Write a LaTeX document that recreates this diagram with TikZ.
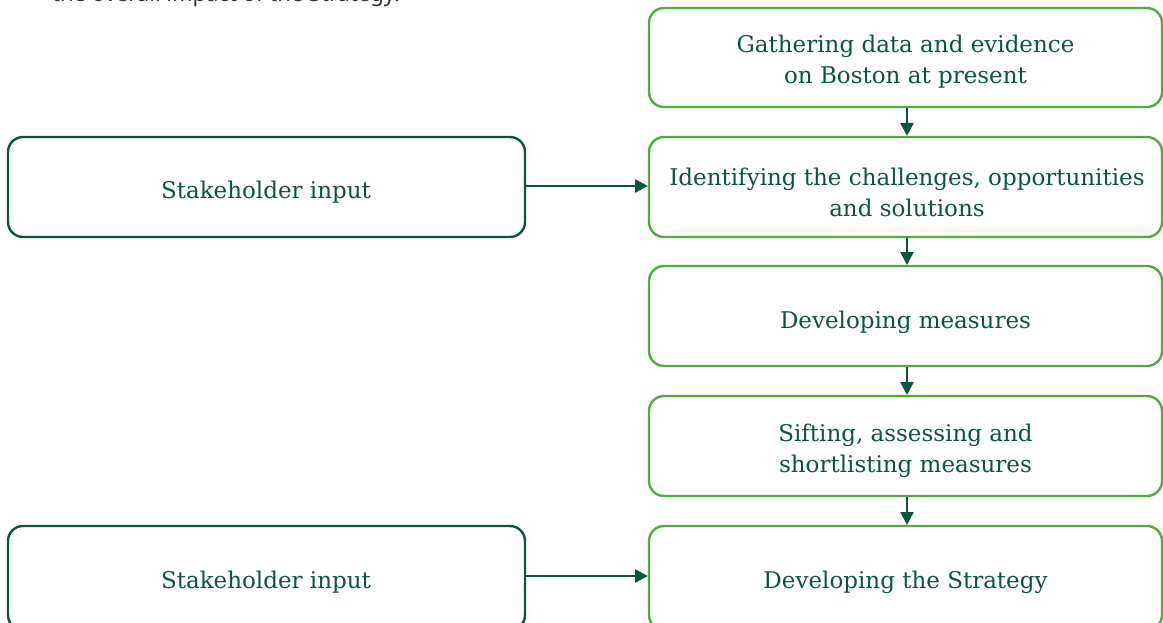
\documentclass[tikz,border=0pt]{standalone}
\usepackage{fontspec}
\setmainfont{DejaVu Serif}
\newfontfamily\topfont{Noto Sans}
\usetikzlibrary{arrows.meta}
\definecolor{boxgreen}{HTML}{4DAE3C}
\definecolor{darkgreen}{HTML}{0A5444}
\definecolor{toptext}{HTML}{333333}
\tikzset{
  stepbox/.style={draw=boxgreen, line width=2.4pt, rounded corners=15pt},
  inputbox/.style={draw=darkgreen, line width=2.4pt, rounded corners=15pt},
  label/.style={text=darkgreen, align=center, font=\fontsize{23}{31}\selectfont},
  flow/.style={draw=darkgreen, line width=2.4pt, -{Triangle[length=13pt,width=13pt]}}
}
\begin{document}
\begin{tikzpicture}[x=1pt,y=-1pt]
\useasboundingbox (0,0) rectangle (1163,623);
\clip (0,0) rectangle (1163,623);
\node[anchor=base west, text=toptext, font=\topfont\fontsize{22}{24}\selectfont, inner sep=0] (intro) at (52,2) {the overall impact of the Strategy.};
\path[stepbox] (649,8) rectangle (1162,107);
\node[label] (b1) at (905.5,62) {Gathering data and evidence\\on Boston at present};
\path[stepbox] (649,137) rectangle (1162,237);
\node[label] (b2) at (907,192) {Identifying the challenges, opportunities\\and solutions};
\path[stepbox] (649,266) rectangle (1162,366);
\node[label] (b3) at (905.5,322) {Developing measures};
\path[stepbox] (649,396) rectangle (1162,496);
\node[label] (b4) at (905.5,451) {Sifting, assessing and\\shortlisting measures};
\path[stepbox] (649,526) rectangle (1162,630);
\node[label] (b5) at (905.5,582) {Developing the Strategy};
\path[inputbox] (8,137) rectangle (525,237);
\node[label] (s1) at (266,192) {Stakeholder input};
\path[inputbox] (8,526) rectangle (525,630);
\node[label] (s2) at (266,582) {Stakeholder input};
\coordinate (b1s) at (907,108);
\coordinate (b2n) at (907,136);
\coordinate (b2s) at (907,238);
\coordinate (b3n) at (907,265);
\coordinate (b3s) at (907,367);
\coordinate (b4n) at (907,395);
\coordinate (b4s) at (907,497);
\coordinate (b5n) at (907,525);
\coordinate (s1e) at (526,186);
\coordinate (b2w) at (648,186);
\coordinate (s2e) at (526,576);
\coordinate (b5w) at (648,576);
\draw[flow] (b1s) -- (b2n);
\draw[flow] (b2s) -- (b3n);
\draw[flow] (b3s) -- (b4n);
\draw[flow] (b4s) -- (b5n);
\draw[flow] (s1e) -- (b2w);
\draw[flow] (s2e) -- (b5w);
\end{tikzpicture}
\end{document}
